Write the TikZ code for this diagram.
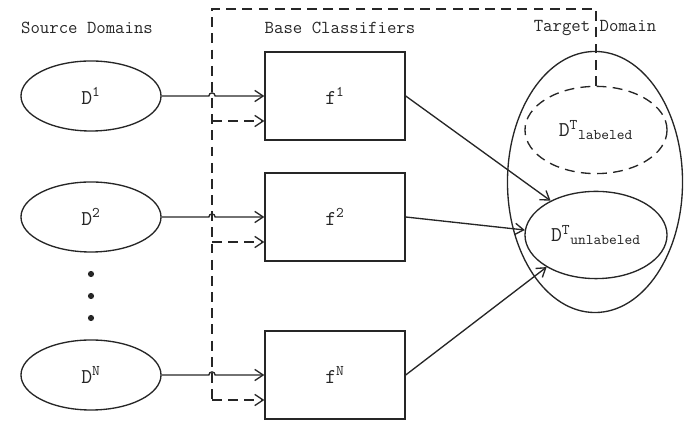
\documentclass[tikz,border=0pt]{standalone}
\usetikzlibrary{shapes.geometric,calc,arrows.meta}

\begin{document}
\begin{tikzpicture}[x=0.025cm,y=0.025cm,line width=0.95pt,color=black!85,
		title/.style={font=\ttfamily\fontsize{13}{15}\selectfont},
		srcdom/.style={ellipse,draw,inner sep=1pt,minimum width=3.5cm,minimum height=1.75cm,font=\ttfamily\fontsize{15}{18}\selectfont},
		clfbox/.style={rectangle,draw,minimum width=3.5cm,minimum height=2.2cm,font=\ttfamily\fontsize{15}{18}\selectfont},
		tgtdom/.style={ellipse,draw,inner sep=1pt,minimum width=3.55cm,minimum height=2.18cm,font=\ttfamily\fontsize{15}{18}\selectfont},
		link/.style={-{Straight Barb[length=6pt,width=8pt]}},
		dashlink/.style={dash pattern=on 7pt off 4.5pt}]
		%%%%% START %%%%%
		
		\useasboundingbox (0,0) rectangle (690,431);
		
		\node[title] (srctitle) at (87,403) {Source Domains};
		\node[title] (clftitle) at (340,403) {Base Classifiers};
		\node[title] (tgttitle) at (595,403) {Target Domain};
		
		\foreach \k/\y in {1/335,2/214,N/56}{
			\node[srcdom] (d\k) at (91,\y) {D\textsuperscript{\k}};
			\node[clfbox] (f\k) at (335,\y) {f\textsuperscript{\k}};
		}
		\foreach \y in {157,135,113}
			\fill (91,\y) circle (2.2pt);
		
		\node[ellipse,draw,minimum width=4.375cm,minimum height=6.525cm] (tgt) at (595,249) {};
		\node[tgtdom,dashlink] (lab) at (596,301) {D\textsuperscript{T}\textsubscript{labeled}};
		\node[tgtdom] (unlab) at (596,196) {D\textsuperscript{T}\textsubscript{unlabeled}};
		
		\coordinate (bustop) at (212,422);
		\coordinate (busbot) at (212,31);
		\draw[dashlink] (lab.north) |- (bustop) -- (busbot);
		
		\foreach \k in {1,2,N}{
			\coordinate (in\k) at ($(f\k.west)+(0,-25)$);
			\draw[dashlink,link] (in\k -| busbot) -- (in\k);
			\draw[link] (d\k.east) -- ($(d\k.east -| busbot)+(-2.2pt,0)$) arc[start angle=180,end angle=0,radius=2.2pt] -- (f\k.west);
		}
		
		\draw[link] (f1.east) -- (unlab.143);
		\draw[link] (f2.east) -- (unlab.176);
		\draw[link] (fN.east) -- (unlab.213);
		
		%%%%% END %%%%%
\end{tikzpicture}
\end{document}
